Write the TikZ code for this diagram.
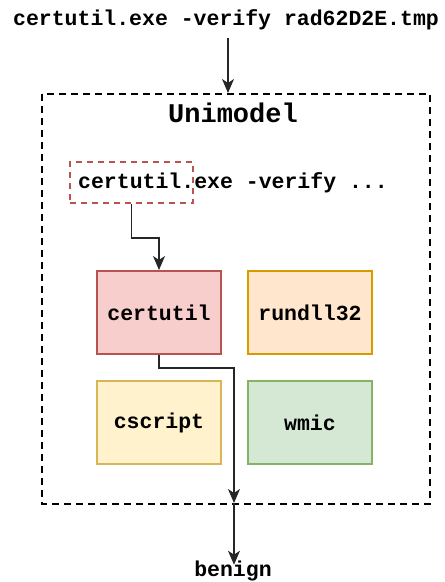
\documentclass[tikz,border=0pt]{standalone}
\usepackage{fontspec}
\setmainfont{Liberation Mono}
\usepackage{tikz}
\usetikzlibrary{arrows.meta}
\definecolor{redfill}{HTML}{F8CECC}
\definecolor{redline}{HTML}{B85450}
\definecolor{orangefill}{HTML}{FFE6CC}
\definecolor{orangeline}{HTML}{D79B00}
\definecolor{yellowfill}{HTML}{FFF2CC}
\definecolor{yellowline}{HTML}{D6B656}
\definecolor{greenfill}{HTML}{D5E8D4}
\definecolor{greenline}{HTML}{82B366}

\begin{document}
\begin{tikzpicture}[x=1pt,y=-1pt,font=\fontsize{21.5}{24}\selectfont\bfseries]
            \tikzstyle{label}=[inner sep=0pt]
            \tikzstyle{tool}=[rectangle,line width=2pt,minimum width=124pt,minimum height=83pt,inner sep=0pt]
            \tikzstyle{link}=[line width=1.3pt,draw=black!85,-{Stealth[length=14pt,width=12pt,inset=4pt]}]
                    \useasboundingbox (0,0) rectangle (445,582);
                    \draw[line width=2pt,dash pattern=on 7pt off 5pt] (42,94) rectangle (430,504);
                    \node[label] (cmd) at (226,20){certutil.exe -verify rad62D2E.tmp};
                    \node[label,font=\fontsize{27}{30}\selectfont\bfseries] (model) at (233,113){Unimodel};
                    \node[label] (line) at (233,183){certutil.exe -verify ...};
                    \node[rectangle,draw=redline,line width=2pt,dash pattern=on 6pt off 5pt,minimum width=123pt,minimum height=41pt] (hl) at (131.5,182.5){};
                    \coordinate (entry) at (228,93);
                    \coordinate (exit) at (234,503);

                \foreach \name/\x/\y/\fillc/\linec/\txt in {cu/159/312.5/redfill/redline/certutil, rd/310/312.5/orangefill/orangeline/rundll32, cs/159/422.5/yellowfill/yellowline/cscript, wm/310/422.5/greenfill/greenline/wmic}
                    \node[tool,fill=\fillc,draw=\linec] (\name) at (\x,\y){\txt};

                    \node[label] (out) at (233,571){benign};

                    \draw[link] (cmd.south -| entry) ++(0,8) -- (entry);
                    \draw[link] (hl.south) -- ++(0,34) -| (cu.north);
                    \draw[link] (cu.south) -- ++(0,13) -| (exit);
                    \draw[link] (exit) -- ([yshift=-4pt]out.north -| exit);
        \end{tikzpicture}
\end{document}
